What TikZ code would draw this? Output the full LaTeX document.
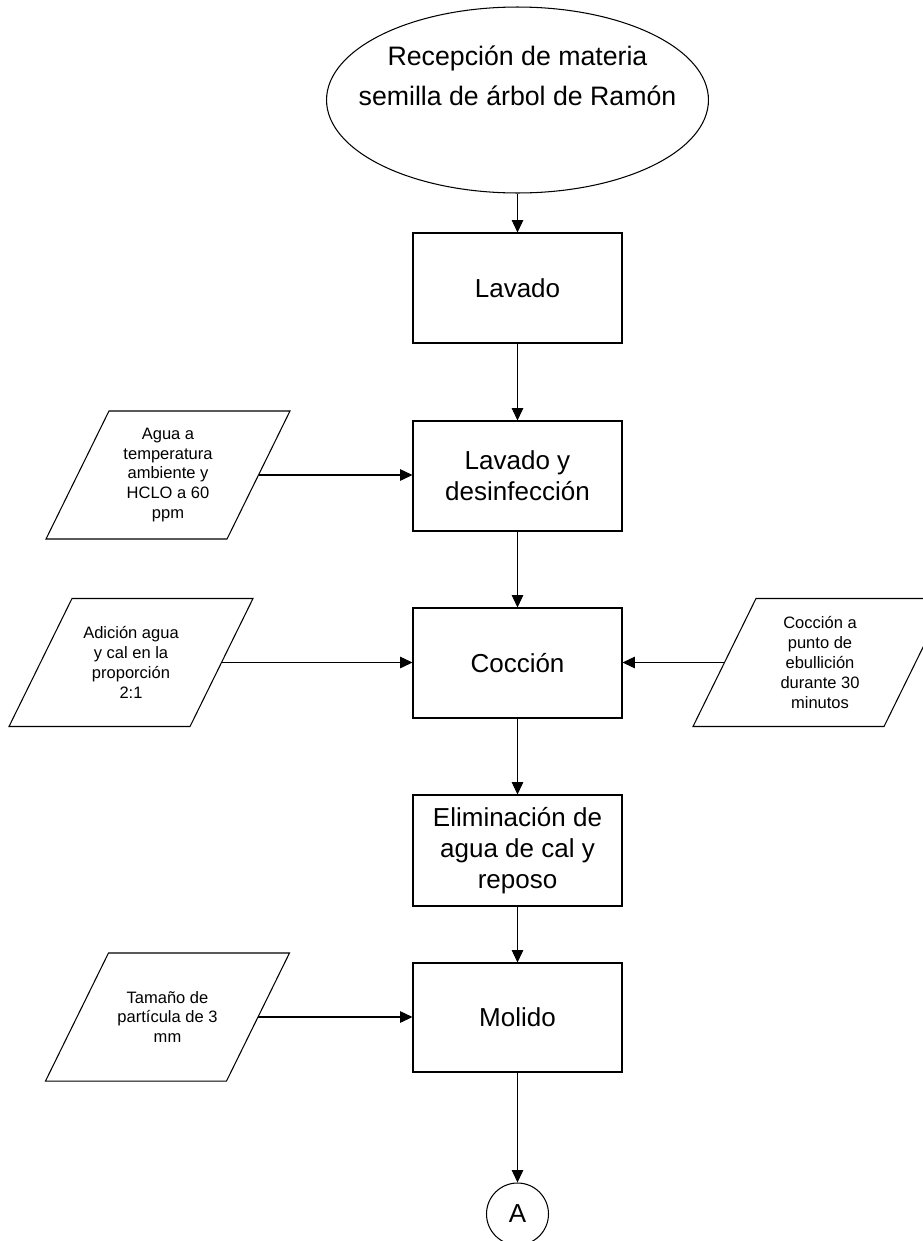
\documentclass[tikz,border=0pt]{standalone}
\usepackage{fontspec}
\setmainfont{Liberation Sans}
\usetikzlibrary{shapes.geometric,arrows.meta}

\begin{document}
\begin{tikzpicture}[x=0.02cm,y=-0.02cm,line width=0.6pt,
  proceso/.style={draw, minimum width=4.18cm, minimum height=2.2cm, align=center, font=\fontsize{14.8}{17.5}\selectfont},
  entrada/.style={minimum width=3.6cm, minimum height=2.54cm, inner sep=0pt, align=center, font=\fontsize{9.4}{11.3}\selectfont},
  flecha/.style={-{Triangle[length=7pt,width=6.5pt]}}]
\clip (0,0) rectangle (923,1241);

\node[draw, ellipse, minimum width=7.64cm, minimum height=3.72cm] (recepcion) at (517.5,100) {};
\node[align=center, font=\fontsize{15.2}{22.7}\selectfont] (recepcion-txt) at (517.5,76) {Recepción de materia\\semilla de árbol de Ramón};

\node[proceso] (lavado) at (517.5,288) {Lavado};
\node[proceso] (desinfeccion) at (517.5,476) {Lavado y\\desinfección};
\node[proceso] (coccion) at (517.5,663) {Cocción};
\node[proceso, minimum height=2.22cm] (eliminacion) at (517.5,850.5) {Eliminación de\\agua de cal y\\reposo};
\node[proceso, minimum height=2.18cm] (molido) at (517.5,1017.5) {Molido};
\node[draw, circle, minimum size=1.24cm, inner sep=0pt, font=\fontsize{14.8}{17.5}\selectfont] (conector) at (517.5,1214) {A};

% entradas
\node[entrada] (agua) at (168,475) {Agua a\\temperatura\\ambiente y\\HCLO a 60\\ppm};
\node[entrada] (adicion) at (131,662.5) {Adición agua\\y cal en la\\proporción\\2:1};
\node[entrada, minimum width=3.8cm] (ebullicion) at (820,662.5) {Cocción a\\punto de\\ebullición\\durante 30\\minutos};
\node[entrada] (particula) at (167.5,1017) {Tamaño de\\partícula de 3\\mm};

\foreach \n in {agua,adicion,ebullicion,particula}
  \draw ([xshift=0.63cm]\n.north west) -- ([xshift=0.63cm]\n.north east)
     -- ([xshift=-0.63cm]\n.south east) -- ([xshift=-0.63cm]\n.south west) -- cycle;

\draw[flecha] (recepcion) -- (lavado);
\draw[flecha] (lavado) -- (desinfeccion);
\draw[flecha] (desinfeccion) -- (coccion);
\draw[flecha] (coccion) -- (eliminacion);
\draw[flecha] (eliminacion) -- (molido);
\draw[flecha] (molido) -- (conector);

\draw[flecha] (agua.east) -- (agua.east -| desinfeccion.west);
\draw[flecha] (adicion.east) -- (adicion.east -| coccion.west);
\draw[flecha] (ebullicion.west) -- (ebullicion.west -| coccion.east);
\draw[flecha] (particula.east) -- (particula.east -| molido.west);
\end{tikzpicture}
\end{document}
